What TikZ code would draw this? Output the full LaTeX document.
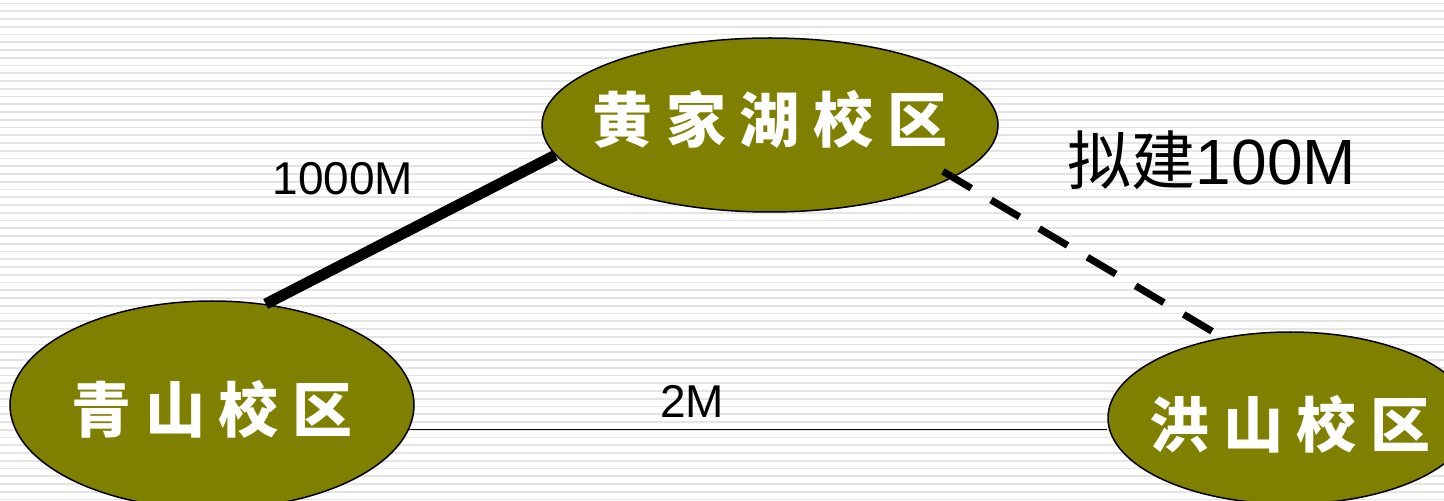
\documentclass[tikz,border=0pt]{standalone}
\usepackage{fontspec}
\setmainfont{Liberation Sans}
\newfontfamily\cjk{Noto Sans CJK SC}
\newfontfamily\campusfont{Noto Sans CJK SC}[LetterSpace=23]
\usetikzlibrary{shapes.geometric}
\definecolor{campusolive}{HTML}{808000}
\definecolor{stripegray}{HTML}{E4E4E4}
\begin{document}
\begin{tikzpicture}[x=0.5pt,y=-0.5pt,
  campus/.style={ellipse, draw=black, line width=0.75pt, fill=campusolive,
    inner sep=0pt, text=white,
    font=\campusfont\bfseries\fontsize{30}{36}\selectfont},
  linklabel/.style={font=\fontsize{23}{28}\selectfont, anchor=base, inner sep=0pt},
  thicklink/.style={line width=5.5pt, black},
  planlink/.style={line width=3.5pt, black, dash pattern=on 16.5pt off 11.5pt},
  thinlink/.style={line width=0.7pt, black}]
\useasboundingbox (0,0) rectangle (1444,501);
\clip (0,0) rectangle (1444,501);
\fill[white] (0,0) rectangle (1444,501);
\foreach \k in {0,...,64} \fill[stripegray] (0,{2.6+7.75*\k}) rectangle (1444,{4.4+7.75*\k});
% campuses
\node[campus, minimum width=228pt, minimum height=87pt] (hj) at (770,125)
  {\makebox[0pt]{\raisebox{-8.9pt}[0pt][0pt]{黄家湖校区}}};
\node[campus, minimum width=202pt, minimum height=104pt] (qs) at (212,405)
  {\makebox[0pt]{\raisebox{-13.9pt}[0pt][0pt]{青山校区}}};
\node[campus, minimum width=182pt, minimum height=86pt] (hs) at (1290,418)
  {\makebox[0pt]{\raisebox{-14.9pt}[0pt][0pt]{洪山校区}}};
% links
\draw[thicklink] (qs.62) -- (hj.188);
\draw[planlink, shorten <=-6pt] (hj.-16) -- (hs.130);
\draw[thinlink] (qs.-7) -- (qs.-7 -| hs.west);
% labels
\node[linklabel] (l1000) at (343,195) {1000M};
\node[linklabel] (l2) at (692,418) {2M};
\node[linklabel, font=\fontsize{32}{38}\selectfont] (lplan) at (1212,185) {{\cjk 拟建}100M};
\end{tikzpicture}
\end{document}
